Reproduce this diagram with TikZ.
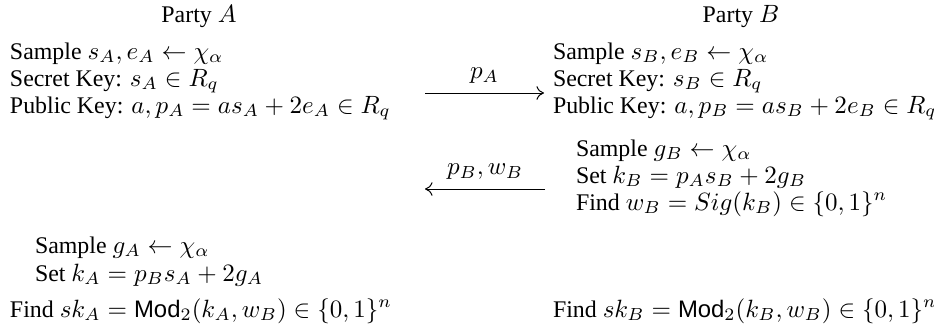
\documentclass[tikz,border=0pt]{standalone}
\usepackage[no-math]{fontspec}
\setmainfont{Liberation Serif}
\setsansfont{Liberation Sans}
\usetikzlibrary{arrows.meta}
\begin{document}
\begin{tikzpicture}[x=0.4pt,y=-0.4pt,
  txt/.style={anchor=base west,inner sep=0pt,outer sep=0pt,font=\fontsize{9.55}{12}\selectfont},
  ttl/.style={anchor=base,inner sep=0pt,font=\fontsize{9.55}{12}\selectfont},
  lbl/.style={anchor=base,inner sep=0pt,yshift=5.8pt,font=\fontsize{9.55}{12}\selectfont},
  msg/.style={line width=0.4pt,-{Computer Modern Rightarrow[length=3pt,width=5.5pt]}}]
\useasboundingbox (0,0) rectangle (934,334);
% titles
\node[ttl] (pa) at (199,22) {Party $A$};
\node[ttl] (pb) at (741,22) {Party $B$};
% party A, first step
\node[txt] (a1) at (10,59) {Sample $s_A,e_A\leftarrow\chi_\alpha$};
\node[txt] (a2) at (10,86) {Secret Key: $s_A\in R_q$};
\node[txt] (a3) at (10,113) {Public Key: $a,p_A=as_A+2e_A\in R_q$};
% party B, first step
\node[txt] (b1) at (553,59) {Sample $s_B,e_B\leftarrow\chi_\alpha$};
\node[txt] (b2) at (553,86) {Secret Key: $s_B\in R_q$};
\node[txt] (b3) at (553,113) {Public Key: $a,p_B=as_B+2e_B\in R_q$};
% party B, second step
\node[txt] (b4) at (576,156) {Sample $g_B\leftarrow\chi_\alpha$};
\node[txt] (b5) at (576,183) {Set $k_B=p_As_B+2g_B$};
\node[txt] (b6) at (576,210) {Find $w_B=Sig(k_B)\in\{0,1\}^n$};
% party A, second step
\node[txt] (a4) at (35,253) {Sample $g_A\leftarrow\chi_\alpha$};
\node[txt] (a5) at (35,281) {Set $k_A=p_Bs_A+2g_A$};
\node[txt] (a6) at (10,317) {Find $sk_A=\textsf{Mod}_2(k_A,w_B)\in\{0,1\}^n$};
\node[txt] (b7) at (553,317) {Find $sk_B=\textsf{Mod}_2(k_B,w_B)\in\{0,1\}^n$};
% messages
\coordinate (m1s) at (425,93);
\coordinate (m1e) at (544,93);
\coordinate (m2s) at (545,189);
\coordinate (m2e) at (425,189);
\draw[msg] (m1s) -- node[lbl] (l1) {$p_A$} (m1e);
\draw[msg] (m2s) -- node[lbl] (l2) {$p_B,w_B$} (m2e);
\end{tikzpicture}
\end{document}
